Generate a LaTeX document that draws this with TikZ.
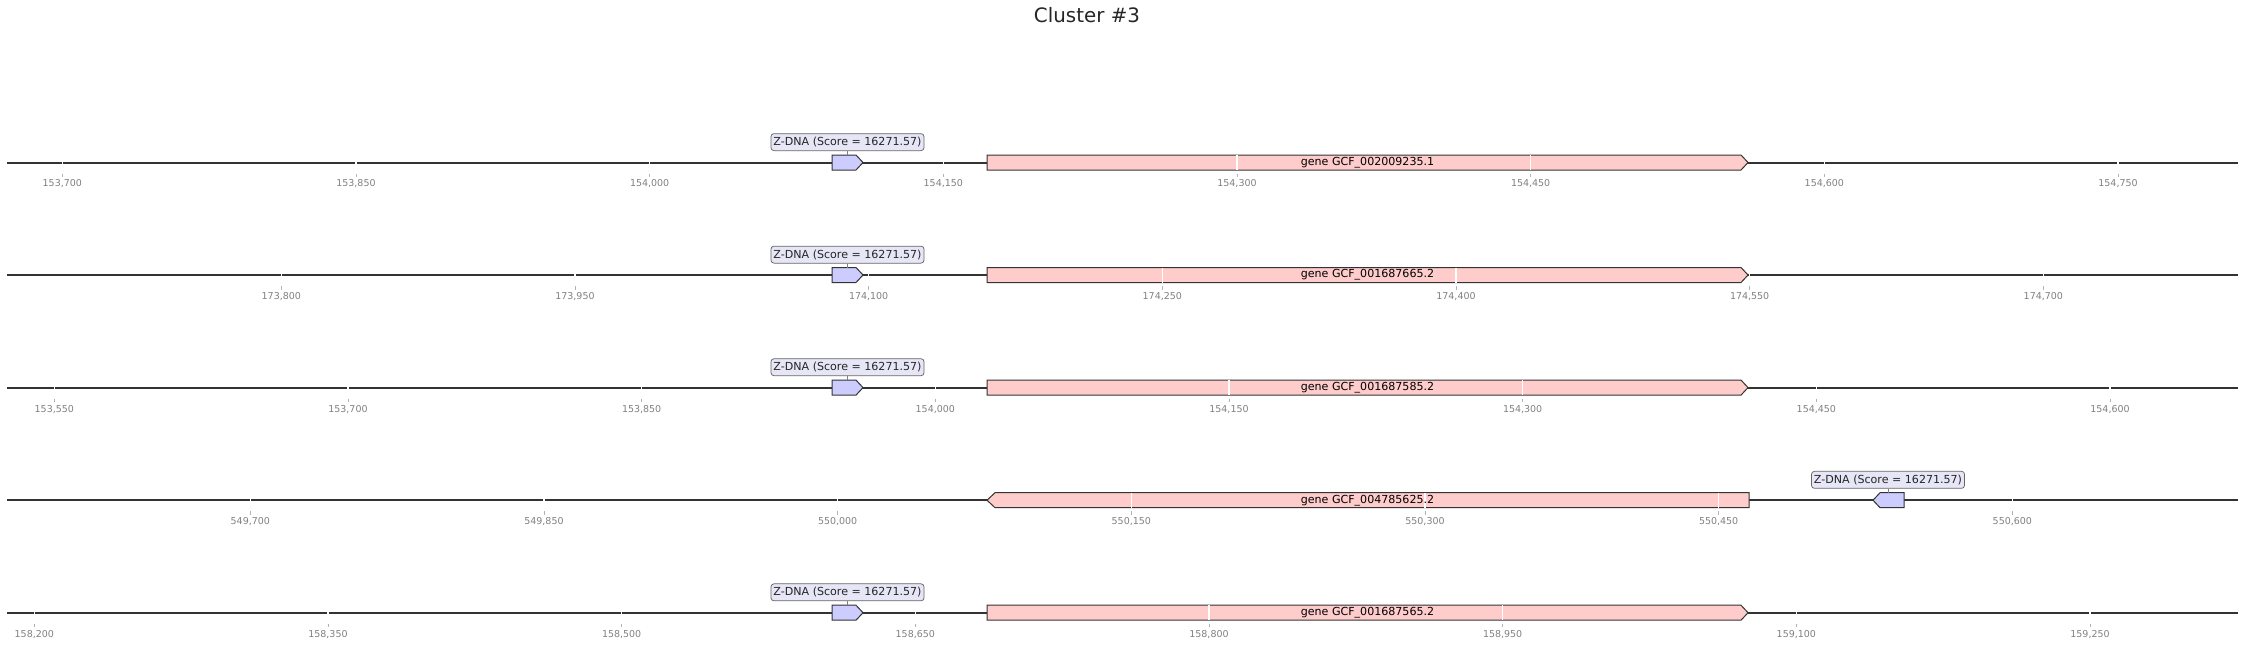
\documentclass[tikz,border=0pt]{standalone}
\usepackage{fontspec}
\setmainfont{DejaVu Sans}
\usepackage{tikz}
\usetikzlibrary{positioning}

\definecolor{zdnafill}{HTML}{CCCCFF}
\definecolor{genefill}{HTML}{FFCCCC}
\definecolor{boxfill}{HTML}{E6E6F7}
\definecolor{axisgray}{HTML}{333333}
\definecolor{tickgray}{HTML}{808080}

\newcommand{\tickfont}{\fontsize{5.4}{6}\selectfont}
\newcommand{\featfont}{\fontsize{6.3}{7}\selectfont}

\begin{document}
\begin{tikzpicture}[x=0.2mm, y=-0.2mm,
            axis/.style = {draw=axisgray, line width=0.4mm},
            feat/.style = {draw=black!80, line width=0.2mm, line join=miter},
            zdna/.style = {feat, fill=zdnafill},
            gene/.style = {feat, fill=genefill},
            tag/.style = {draw=gray!80!black, fill=boxfill,
                rounded corners=0.6mm, line width=0.15mm,
                inner xsep=0.5mm, inner ysep=0pt, minimum height=3.4mm,
                font=\featfont, text=black!85},
            ticklbl/.style = {text=tickgray, font=\tickfont}]

        \useasboundingbox (0,0) rectangle (2246,647);

        % Title
        \node[font=\fontsize{11.3}{13}\selectfont, text=black!85] (title) at (1087,15) {Cluster \#3};

        % One track per genome
        \foreach \i/\y/\xo/\vo/\nt/\gname/\rev in {
                1/162.5/62.3/153700/7/GCF\_002009235.1/0,
                2/275.0/281.3/173800/6/GCF\_001687665.2/0,
                3/387.6/54.3/153550/7/GCF\_001687585.2/0,
                4/500.2/250.3/549700/6/GCF\_004785625.2/1,
                5/612.7/34.3/158200/7/GCF\_001687565.2/0}{

            % Axis line
            \draw[axis] (7,\y) -- (2238,\y);

            % Features
            \ifnum\rev=0
                \draw[gene] (987,\y-7.5) -- (1741,\y-7.5) -- (1748,\y) -- (1741,\y+7.5) -- (987,\y+7.5) -- cycle;
                \draw[zdna] (832,\y-7.5) -- (856,\y-7.5) -- (863,\y) -- (856,\y+7.5) -- (832,\y+7.5) -- cycle;
                \coordinate (z\i) at (847.5,\y-7.5);
            \else
                \draw[gene] (987,\y) -- (995,\y-7.5) -- (1749,\y-7.5) -- (1749,\y+7.5) -- (995,\y+7.5) -- cycle;
                \draw[zdna] (1873,\y) -- (1880,\y-7.5) -- (1904,\y-7.5) -- (1904,\y+7.5) -- (1880,\y+7.5) -- cycle;
                \coordinate (z\i) at (1888,\y-7.5);
            \fi

            % Ticks
            \foreach \k in {0,...,\nt}{
                \pgfmathsetmacro\tx{\xo+293.67*\k}
                \edef\tv{\the\numexpr\vo+150*\k\relax}
                \draw[white, line width=0.25mm] (\tx,\y-7.5) -- (\tx,\y+7.5);
                \draw[tickgray!60, line width=0.15mm] (\tx,\y+11) -- (\tx,\y+14.5);
                \node[ticklbl] (t\i-\k) at (\tx,\y+21.5)
                    {\pgfmathprintnumber[fixed,precision=0,assume math mode=true]{\tv}};
            }

            % Labels
            \node[font=\featfont] (g\i) at (1367.5,\y) {gene \gname};
            \node[tag, above=0.8mm of z\i] (l\i) {Z-DNA (Score = 16271.57)};
            \draw[gray, line width=0.15mm] (l\i.south) -- (z\i);
        }

        \end{tikzpicture}
\end{document}
